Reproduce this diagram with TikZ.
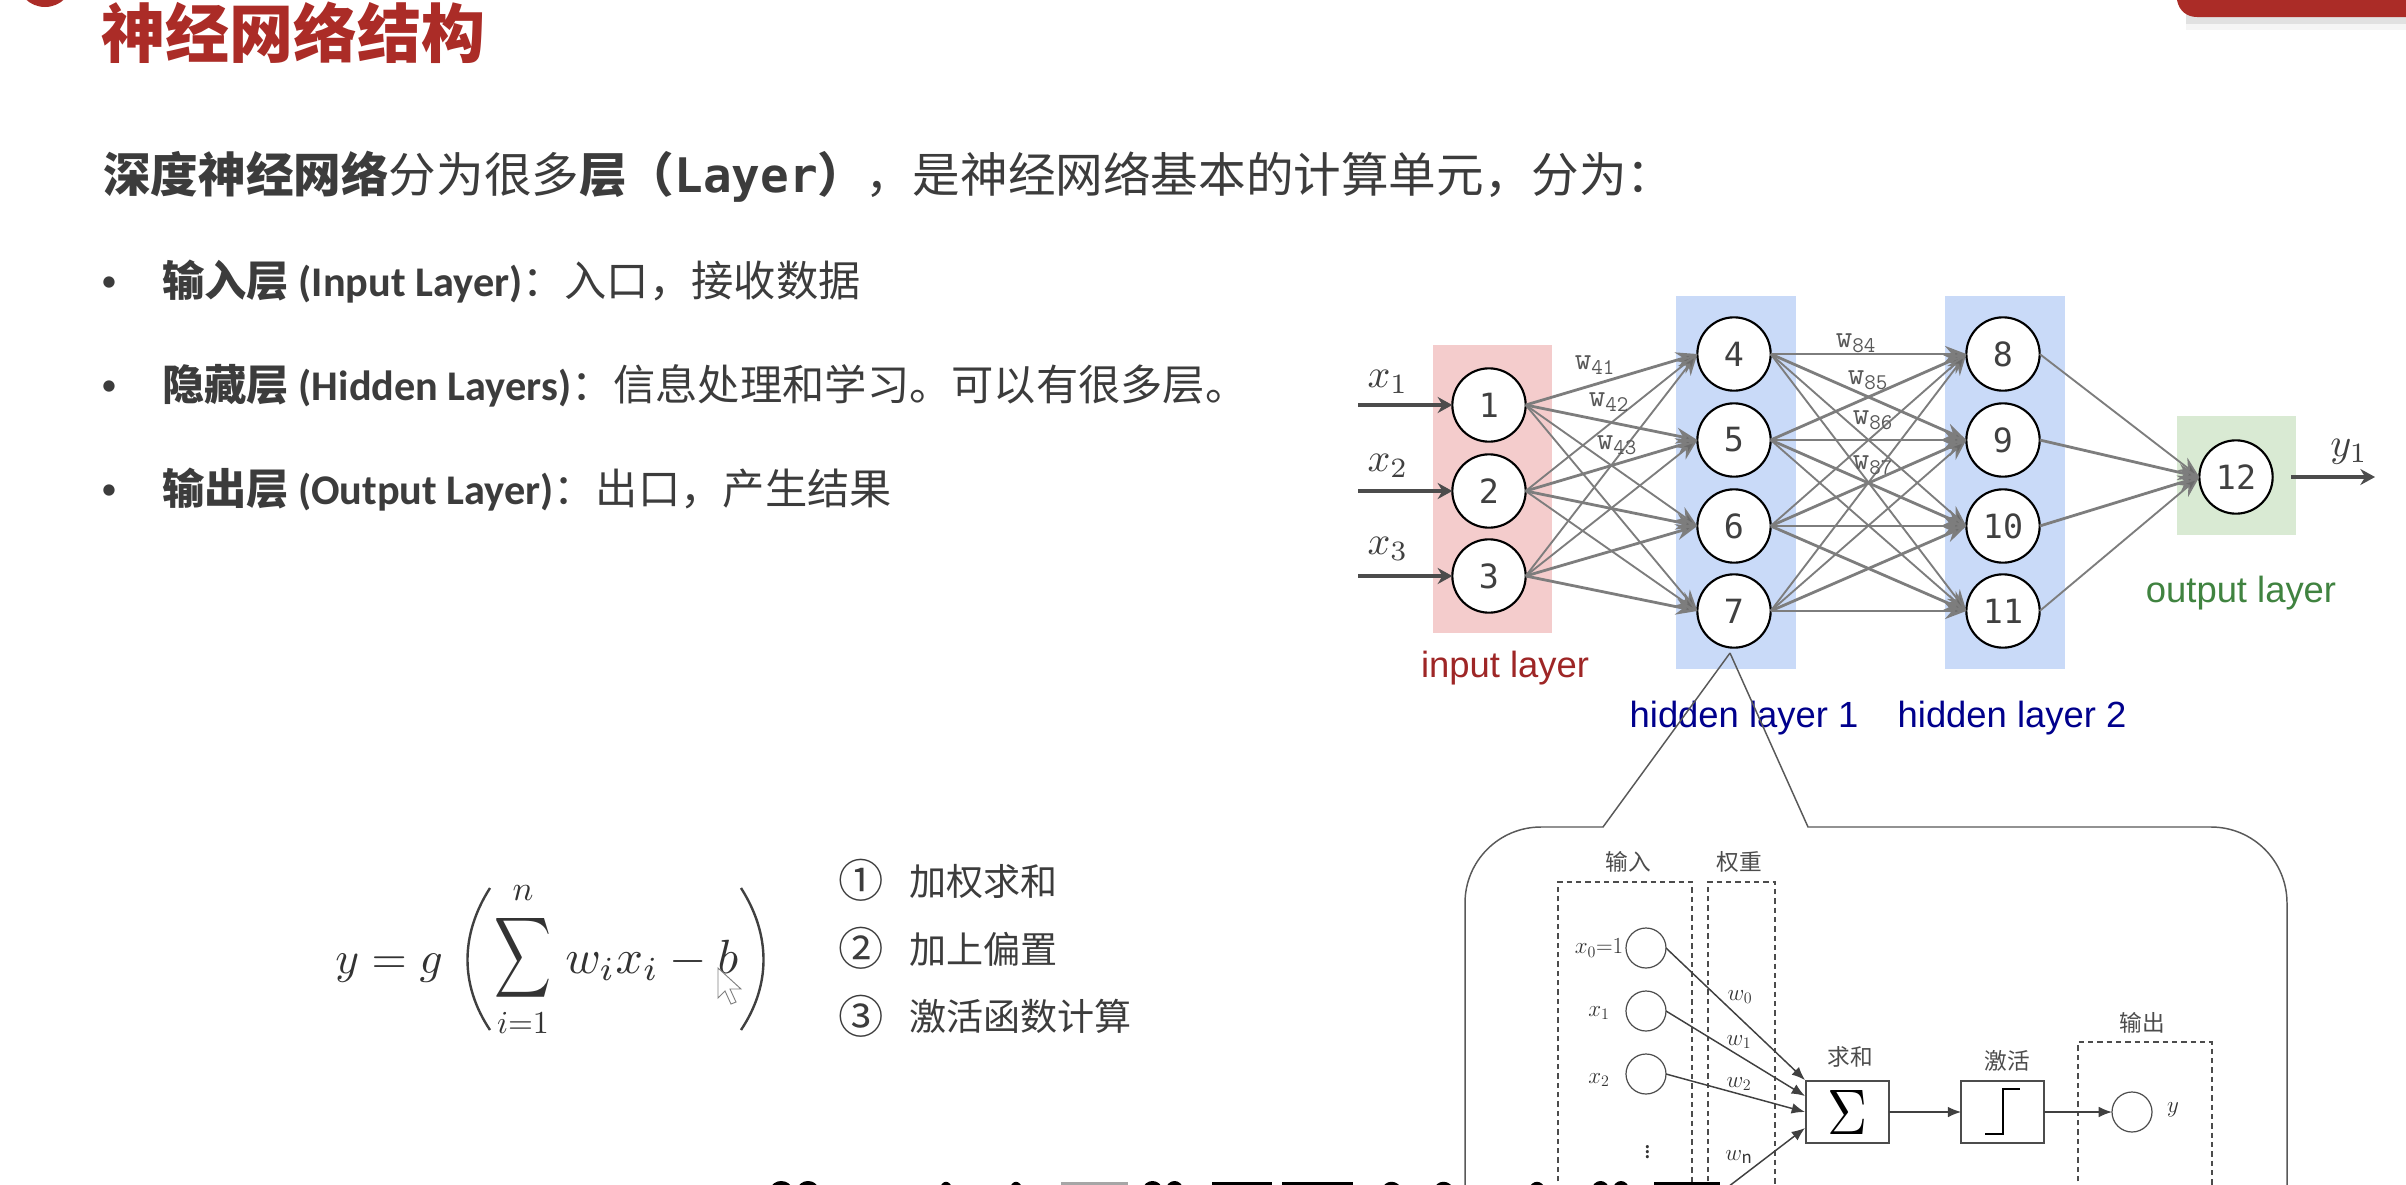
\documentclass[tikz,border=0pt]{standalone}
\usepackage{fontspec}
\usepackage{graphicx}
\usetikzlibrary{arrows.meta}
\setmainfont{Noto Sans CJK SC}
\newfontfamily\latinfont{Carlito}
\newfontfamily\headmono{DejaVu Sans Mono}
\newfontfamily\numfont{DejaVu Sans Mono}
\newfontfamily\layerfont{Liberation Sans}
\newcommand{\fsz}[1]{\fontsize{#1}{#1}\selectfont}
\newcommand{\bigmath}[2]{\scalebox{#1}{$#2$}}
\definecolor{slidered}{RGB}{171,44,39}
\definecolor{slidetext}{RGB}{60,60,60}
\definecolor{netgray}{RGB}{125,125,125}
\definecolor{inlayer}{RGB}{244,204,204}
\definecolor{hidlayer}{RGB}{201,218,248}
\definecolor{outlayer}{RGB}{217,234,211}
\tikzset{
  slidetxt/.style={anchor=base west,inner sep=0pt,text=slidetext},
  bigtxt/.style={slidetxt,font=\fsz{35.7}},
  listtxt/.style={slidetxt,font=\fsz{31.7}},
  numtxt/.style={slidetxt,font=\fsz{27.8}},
  dotmark/.style={inner sep=0pt,text=slidetext,font=\latinfont\fsz{24}},
  neuron/.style={circle,draw=black,line width=1.6pt,fill=white,minimum size=55pt,inner sep=0pt,outer sep=0pt,font=\numfont\fsz{25},text=black!75},
  netline/.style={draw=netgray,line width=1.4pt,-{Stealth[length=16pt,width=12pt,fill=netgray!85!black]}},
  netthick/.style={netline,line width=2.1pt},
  ioline/.style={draw=black!70,line width=2.4pt,-{Stealth[length=11pt,width=12pt]}},
  wlabel/.style={inner sep=0pt,text=black!65,font=\ttfamily\fsz{24}},
  xlabel/.style={inner sep=0pt,text=black!75},
  layerlabel/.style={inner sep=0pt,font=\layerfont\fsz{27.3}},
  dashbox/.style={draw=black!70,line width=0.9pt,dash pattern=on 4pt off 3pt},
  inputcirc/.style={circle,draw=black!70,line width=0.9pt,minimum size=30pt,inner sep=0pt,outer sep=0pt},
  blockbox/.style={draw=black!70,line width=1.1pt,minimum width=62pt,minimum height=46.5pt,inner sep=0pt,outer sep=0pt},
  blockline/.style={draw=black!75,line width=1.1pt,-{Latex[length=10pt,width=8pt]}},
  innertxt/.style={inner sep=0pt,text=black!70,font=\fsz{17}},
  innermath/.style={inner sep=0pt,text=black!80,font=\fsz{18}},
  blob/.style={fill=black,draw=none}
}
\begin{document}
\begin{tikzpicture}[x=0.75pt,y=0.75pt,yscale=-1,xscale=1]
\path [use as bounding box,clip] (0,0) rectangle (2406,1185);
\fill [white] (0,0) rectangle (2406,1185);
% slide decorations
\fill [slidered] (45,-21) circle (28);
\fill [black,opacity=0.04] (2186,-10) rectangle (2406,30);
\fill [black,opacity=0.08] (2186,-10) rectangle (2406,24);
\fill [slidered] (2177,-10) -- (2177,0) .. controls (2179,11) and (2187,17) .. (2197,17) -- (2406,17) -- (2406,-10) -- cycle;
% slide text
\node (title) [slidetxt,text=slidered,font=\fsz{48}\bfseries] at (101,57) {神经网络结构};
\node (intro) [bigtxt] at (103,192) {\textbf{深度神经网络}分为很多\textbf{层（{\headmono Layer}）}，是神经网络基本的计算单元，分为：};
\node (dot1) [dotmark] at (109,284) {•};
\node (dot2) [dotmark] at (109,388) {•};
\node (dot3) [dotmark] at (109,492) {•};
\node (item1) [listtxt] at (162,296) {\textbf{输入层 {\latinfont (Input Layer)}}：入口，接收数据};
\node (item2) [listtxt] at (162,400) {\textbf{隐藏层 {\latinfont (Hidden Layers)}}：信息处理和学习。可以有很多层。};
\node (item3) [listtxt] at (162,504) {\textbf{输出层 {\latinfont (Output Layer)}}：出口，产生结果};
% formula
\node (fy) [slidetxt,text=black!80] at (335,973) {\bigmath{3.4}{y=g}};
\draw [black!75,line width=1.8pt] (490,888) .. controls (460,935) and (460,985) .. (490,1030);
\draw [black!75,line width=1.8pt] (741,888) .. controls (771,935) and (771,985) .. (741,1030);
\node (fsum) [inner sep=0pt,text=black!80] at (523,958) {\resizebox*{42.75pt}{67.5pt}{$\displaystyle\sum$}};
\node (ftop) [inner sep=0pt,text=black!80] at (523,893) {\bigmath{2.6}{n}};
\node (fbot) [inner sep=0pt,text=black!80] at (523,1023) {\bigmath{2.4}{i{=}1}};
\node (fterm) [slidetxt,text=black!80] at (565,973) {\bigmath{3.6}{w_i x_i-b}};
\draw [fill=white,draw=black!50,line width=0.7pt] (718,968) -- (718,998) -- (725,991) -- (731,1004) -- (736,1002) -- (730,989) -- (741,989) -- cycle;
% list of steps
\node (circ1) [inner sep=0pt,text=slidetext,font=\fsz{34}] at (861,880) {①};
\node (circ2) [inner sep=0pt,text=slidetext,font=\fsz{34}] at (861,948) {②};
\node (circ3) [inner sep=0pt,text=slidetext,font=\fsz{34}] at (861,1016) {③};
\node (step1) [numtxt] at (909,895) {加权求和};
\node (step2) [numtxt] at (909,963) {加上偏置};
\node (step3) [numtxt] at (909,1030) {激活函数计算};
% layer bands
\fill [inlayer] (1433,345) rectangle (1552,633);
\fill [hidlayer] (1676,296) rectangle (1796,669);
\fill [hidlayer] (1945,296) rectangle (2065,669);
\fill [outlayer] (2177,416) rectangle (2296,535);
% neurons
\node (n1) [neuron] at (1489,405) {1};
\node (n2) [neuron] at (1489,491) {2};
\node (n3) [neuron] at (1489,576) {3};
\node (n4) [neuron] at (1734,354) {4};
\node (n5) [neuron] at (1734,440) {5};
\node (n6) [neuron] at (1734,526) {6};
\node (n7) [neuron] at (1734,611) {7};
\node (n8) [neuron] at (2003,354) {8};
\node (n9) [neuron] at (2003,440) {9};
\node (n10) [neuron] at (2003,526) {10};
\node (n11) [neuron] at (2003,611) {11};
\node (n12) [neuron] at (2236,477) {12};
\coordinate (in1) at (1358,405);
\coordinate (in2) at (1358,491);
\coordinate (in3) at (1358,576);
\coordinate (out0) at (2291,477);
\coordinate (out1) at (2375,477);
\draw [ioline] (in1) -- (n1.west);
\draw [ioline] (in2) -- (n2.west);
\draw [ioline] (in3) -- (n3.west);
\draw [ioline] (out0) -- (out1);
\draw [netthick] (n1.east) -- (n4.west);
\draw [netthick] (n1.east) -- (n5.west);
\draw [netline] (n1.east) -- (n6.west);
\draw [netline] (n1.east) -- (n7.west);
\draw [netline] (n2.east) -- (n4.west);
\draw [netthick] (n2.east) -- (n5.west);
\draw [netthick] (n2.east) -- (n6.west);
\draw [netline] (n2.east) -- (n7.west);
\draw [netline] (n3.east) -- (n4.west);
\draw [netline] (n3.east) -- (n5.west);
\draw [netthick] (n3.east) -- (n6.west);
\draw [netthick] (n3.east) -- (n7.west);
\draw [netthick] (n4.east) -- (n8.west);
\draw [netthick] (n4.east) -- (n9.west);
\draw [netline] (n4.east) -- (n10.west);
\draw [netline] (n4.east) -- (n11.west);
\draw [netthick] (n5.east) -- (n8.west);
\draw [netthick] (n5.east) -- (n9.west);
\draw [netthick] (n5.east) -- (n10.west);
\draw [netline] (n5.east) -- (n11.west);
\draw [netline] (n6.east) -- (n8.west);
\draw [netthick] (n6.east) -- (n9.west);
\draw [netthick] (n6.east) -- (n10.west);
\draw [netthick] (n6.east) -- (n11.west);
\draw [netline] (n7.east) -- (n8.west);
\draw [netline] (n7.east) -- (n9.west);
\draw [netthick] (n7.east) -- (n10.west);
\draw [netthick] (n7.east) -- (n11.west);
\draw [netline] (n8.east) -- (n12.west);
\draw [netthick] (n9.east) -- (n12.west);
\draw [netthick] (n10.east) -- (n12.west);
\draw [netline] (n11.east) -- (n12.west);
% net labels
\node (xa) [xlabel] at (1388,382) {\bigmath{3}{x_1}};
\node (xb) [xlabel] at (1388,466) {\bigmath{3}{x_2}};
\node (xc) [xlabel] at (1388,549) {\bigmath{3}{x_3}};
\node (ya) [xlabel] at (2349,452) {\bigmath{3}{y_1}};
\node (w41) [wlabel] at (1595,365) {w$_{\mathtt{41}}$};
\node (w42) [wlabel] at (1609,402) {w$_{\mathtt{42}}$};
\node (w43) [wlabel] at (1617,445) {w$_{\mathtt{43}}$};
\node (w84) [wlabel] at (1856,343) {w$_{\mathtt{84}}$};
\node (w85) [wlabel] at (1868,380) {w$_{\mathtt{85}}$};
\node (w86) [wlabel] at (1873,420) {w$_{\mathtt{86}}$};
\node (w87) [wlabel] at (1873,465) {w$_{\mathtt{87}}$};
\node (lblin) [layerlabel,text=red!55!black!85] at (1505,668) {input layer};
\node (lblh1) [layerlabel,text=blue!55!black] at (1744,718) {hidden layer 1};
\node (lblh2) [layerlabel,text=blue!55!black] at (2012,718) {hidden layer 2};
\node (lblout) [layerlabel,text=green!35!black!75] at (2241,593) {output layer};
% callout
\draw [black!65,line width=1.1pt] (1730,653) -- (1603,827) -- (1541,827) .. controls (1499,827) and (1465,861) .. (1465,903) -- (1465,1200);
\draw [black!65,line width=1.1pt] (1730,653) -- (1808,827) -- (2211,827) .. controls (2253,827) and (2287,861) .. (2287,903) -- (2287,1200);
% perceptron
\draw [dashbox] (1558,1200) -- (1558,882) -- (1692,882) -- (1692,1200);
\draw [dashbox] (1708,1200) -- (1708,882) -- (1775,882) -- (1775,1200);
\draw [dashbox] (2078,1200) -- (2078,1042) -- (2212,1042) -- (2212,1200);
\node (ltin) [innertxt] at (1628,862) {输入};
\node (ltw) [innertxt] at (1739,862) {权重};
\node (ltout) [innertxt] at (2142,1023) {输出};
\node (ltsum) [innertxt] at (1850,1057) {求和};
\node (ltact) [innertxt] at (2007,1061) {激活};
\node (c0) [inputcirc] at (1646,948) {};
\node (c1) [inputcirc] at (1646,1011) {};
\node (c2) [inputcirc] at (1646,1074) {};
\node (cy) [inputcirc] at (2132,1112) {};
\node (sumbox) [blockbox] at (1847.5,1112) {\resizebox{30pt}{33pt}{$\Sigma$}};
\node (actbox) [blockbox] at (2002.5,1112) {};
\coordinate (cn) at (1724,1190);
\draw [black,line width=1.6pt] (1985,1134) -- (2003,1134) -- (2003,1089) -- (2020,1089);
\draw [blockline] (c0.east) -- (1805,1080);
\draw [blockline] (c1.east) -- (1805,1096);
\draw [blockline] (c2.east) -- (1805,1112);
\draw [blockline] (cn) -- (1805,1128);
\draw [blockline] (sumbox.east) -- (actbox.west);
\draw [blockline] (actbox.east) -- (cy.west);
\node (mx0) [innermath] at (1599,948) {$x_0{=}1$};
\node (mx1) [innermath] at (1599,1013) {$x_1$};
\node (mx2) [innermath] at (1599,1080) {$x_2$};
\node (my) [innermath] at (2173,1110) {$y$};
\node (mw0) [innermath] at (1740,997) {$w_0$};
\node (mw1) [innermath] at (1739,1042) {$w_1$};
\node (mw2) [innermath] at (1739,1084) {$w_2$};
\node (mwn) [innermath] at (1739,1157) {$w_{\mathrm{n}}$};
\node (mdots) [inner sep=0pt,text=black!80,font=\fsz{18}] at (1648,1148) {$\vdots$};
% cut off caption at the lower edge
\fill [blob] (770,1190) .. controls (772,1178) and (790,1178) .. (793,1190) -- cycle;
\fill [blob] (797,1190) .. controls (799,1178) and (817,1178) .. (819,1190) -- cycle;
\fill [blob] (939,1190) .. controls (942,1179) and (950,1179) .. (953,1190) -- cycle;
\fill [blob] (1009,1190) .. controls (1012,1179) and (1020,1179) .. (1023,1190) -- cycle;
\fill [black!35] (1061,1182) rectangle (1128,1190);
\fill [blob] (1142,1190) .. controls (1145,1178) and (1160,1178) .. (1163,1190) -- cycle;
\fill [blob] (1165,1190) .. controls (1168,1178) and (1181,1178) .. (1184,1190) -- cycle;
\fill [blob] (1212,1182) rectangle (1272,1190);
\fill [blob] (1282,1182) rectangle (1353,1190);
\fill [blob] (1381,1190) .. controls (1385,1179) and (1398,1179) .. (1402,1190) -- cycle;
\fill [blob] (1433,1190) .. controls (1437,1179) and (1450,1179) .. (1454,1190) -- cycle;
\fill [blob] (1528,1190) .. controls (1532,1179) and (1542,1179) .. (1546,1190) -- cycle;
\fill [blob] (1591,1190) .. controls (1594,1178) and (1607,1178) .. (1610,1190) -- cycle;
\fill [blob] (1612,1190) .. controls (1615,1178) and (1627,1178) .. (1630,1190) -- cycle;
\fill [blob] (1654,1182) rectangle (1720,1190);
\end{tikzpicture}
\end{document}
